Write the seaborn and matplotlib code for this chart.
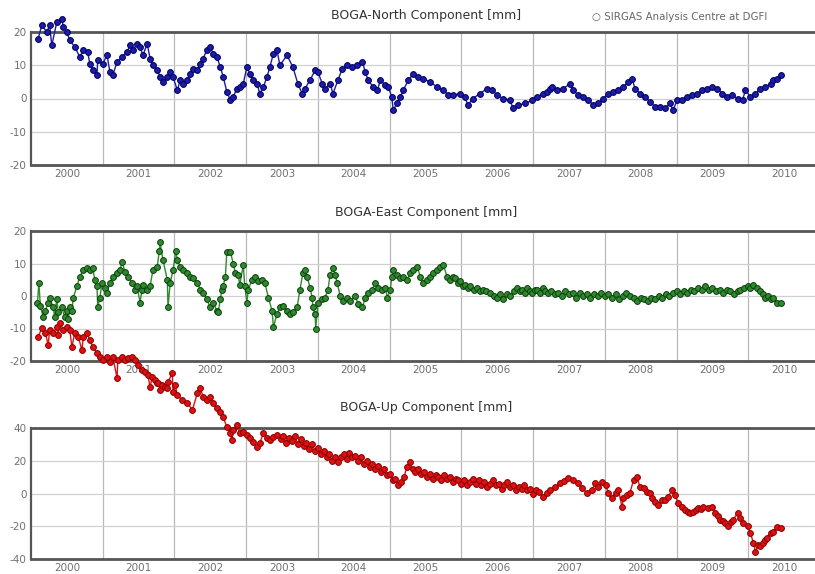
import matplotlib
matplotlib.use("Agg")
import matplotlib.pyplot as plt
import pandas as pd
import seaborn as sns
from matplotlib.ticker import FixedLocator, NullFormatter

# decimal epoch (year axis, labels sit at mid-year) and values in mm
north_t = [2000.10, 2000.15, 2000.22, 2000.26, 2000.29, 2000.36, 2000.43, 2000.45, 2000.50, 2000.54,
           2000.61, 2000.68, 2000.73, 2000.79, 2000.82, 2000.86, 2000.92, 2000.93, 2001.00, 2001.06,
           2001.10, 2001.14, 2001.20, 2001.27, 2001.34, 2001.38, 2001.42, 2001.48, 2001.52, 2001.56,
           2001.62, 2001.66, 2001.70, 2001.76, 2001.80, 2001.84, 2001.90, 2001.94, 2001.98, 2002.04,
           2002.08, 2002.12, 2002.18, 2002.22, 2002.26, 2002.32, 2002.36, 2002.40, 2002.45, 2002.50,
           2002.54, 2002.59, 2002.64, 2002.68, 2002.73, 2002.78, 2002.82, 2002.87, 2002.91, 2002.96,
           2003.01, 2003.05, 2003.10, 2003.15, 2003.19, 2003.24, 2003.29, 2003.33, 2003.38, 2003.43,
           2003.47, 2003.57, 2003.65, 2003.72, 2003.78, 2003.82, 2003.89, 2003.96, 2004.00, 2004.06,
           2004.10, 2004.17, 2004.21, 2004.28, 2004.34, 2004.41, 2004.48, 2004.55, 2004.62, 2004.66,
           2004.70, 2004.77, 2004.83, 2004.87, 2004.94, 2004.98, 2005.03, 2005.05, 2005.10, 2005.15,
           2005.19, 2005.26, 2005.33, 2005.40, 2005.47, 2005.56, 2005.66, 2005.75, 2005.82, 2005.89,
           2005.98, 2006.05, 2006.09, 2006.16, 2006.26, 2006.36, 2006.43, 2006.50, 2006.58, 2006.68,
           2006.72, 2006.79, 2006.89, 2006.99, 2007.06, 2007.14, 2007.20, 2007.24, 2007.27, 2007.34,
           2007.42, 2007.52, 2007.56, 2007.63, 2007.70, 2007.77, 2007.84, 2007.91, 2007.98, 2008.05,
           2008.12, 2008.19, 2008.26, 2008.33, 2008.38, 2008.42, 2008.49, 2008.56, 2008.63, 2008.70,
           2008.77, 2008.84, 2008.91, 2008.95, 2009.01, 2009.08, 2009.15, 2009.22, 2009.29, 2009.36,
           2009.43, 2009.50, 2009.57, 2009.64, 2009.71, 2009.78, 2009.85, 2009.92, 2009.96, 2010.03,
           2010.10, 2010.17, 2010.24, 2010.31, 2010.35, 2010.40, 2010.45]
north_mm = [18, 22, 20, 22, 16, 23, 24, 21.5, 20, 17.5,
            15.5, 12.5, 14.5, 14, 10.5, 8.5, 7, 11.5, 10.5, 13,
            8, 7, 11, 12.5, 14, 16, 14.5, 16.5, 15.5, 13,
            16.5, 12, 10, 8.5, 6.5, 5, 6.5, 8, 6.5, 2.5,
            5.5, 4.5, 5.5, 7.5, 9, 8.5, 10.5, 12, 14.5, 15.5,
            13.5, 12.5, 9.5, 6.5, 2, -0.5, 0.5, 3, 3.5, 4.5,
            9.5, 7.5, 5.5, 4.5, 1.5, 3.5, 6.5, 9.5, 13.5, 14.5,
            10, 13, 9.5, 4.5, 1.5, 3, 5.5, 8.5, 8, 4.5,
            3, 4.5, 1.5, 5.5, 9, 10, 9.5, 10, 11, 8,
            5.5, 3.5, 2.5, 5.5, 4, 3.5, 0.5, -3.5, -1.5, 0.5,
            2.5, 5.5, 7.5, 6.5, 6, 5, 3.5, 2.5, 1, 1,
            1.5, 0.5, -2, 0, 1.5, 3, 2.5, 1, 0, -0.5,
            -3, -2, -1.5, -0.5, 0.5, 1.5, 2, 3, 3.5, 2.5,
            3, 4.5, 2.5, 1, 0.5, -0.5, -2, -1.5, 0, 1.5,
            2, 2.5, 3.5, 5, 6, 3, 1.5, 0.5, -1, -2.5,
            -2.5, -3, -1.5, -3.5, -0.5, -0.5, 0.5, 1, 1.5, 2.5,
            3, 3.5, 3, 1.5, 0.5, 1, 0, -0.5, 2.5, 0.5,
            1.5, 3, 3.5, 4.5, 5.5, 6, 7]

east_t = [2000.09, 2000.11, 2000.13, 2000.17, 2000.20, 2000.24, 2000.26, 2000.31, 2000.33, 2000.36,
          2000.38, 2000.43, 2000.47, 2000.50, 2000.52, 2000.54, 2000.57, 2000.59, 2000.64, 2000.68,
          2000.73, 2000.78, 2000.82, 2000.86, 2000.89, 2000.92, 2000.93, 2000.96, 2000.99, 2001.03,
          2001.06, 2001.10, 2001.14, 2001.20, 2001.24, 2001.27, 2001.31, 2001.35, 2001.41, 2001.45,
          2001.48, 2001.52, 2001.55, 2001.56, 2001.62, 2001.66, 2001.70, 2001.76, 2001.79, 2001.80,
          2001.84, 2001.90, 2001.91, 2001.94, 2001.98, 2002.02, 2002.04, 2002.08, 2002.12, 2002.18,
          2002.22, 2002.26, 2002.32, 2002.36, 2002.40, 2002.45, 2002.50, 2002.54, 2002.59, 2002.61,
          2002.64, 2002.66, 2002.68, 2002.71, 2002.73, 2002.78, 2002.82, 2002.85, 2002.89, 2002.91,
          2002.96, 2002.98, 2003.01, 2003.03, 2003.08, 2003.12, 2003.17, 2003.22, 2003.26, 2003.31,
          2003.36, 2003.38, 2003.43, 2003.47, 2003.51, 2003.57, 2003.61, 2003.65, 2003.71, 2003.75,
          2003.79, 2003.82, 2003.85, 2003.89, 2003.92, 2003.93, 2003.96, 2003.97, 2004.00, 2004.06,
          2004.10, 2004.14, 2004.17, 2004.21, 2004.24, 2004.27, 2004.31, 2004.35, 2004.41, 2004.45,
          2004.52, 2004.56, 2004.62, 2004.66, 2004.70, 2004.76, 2004.80, 2004.84, 2004.90, 2004.94,
          2004.97, 2005.01, 2005.03, 2005.05, 2005.10, 2005.15, 2005.19, 2005.24, 2005.29, 2005.33,
          2005.38, 2005.43, 2005.47, 2005.52, 2005.56, 2005.61, 2005.66, 2005.70, 2005.75, 2005.80,
          2005.84, 2005.88, 2005.91, 2005.95, 2005.98, 2006.02, 2006.05, 2006.09, 2006.12, 2006.17,
          2006.22, 2006.26, 2006.30, 2006.35, 2006.40, 2006.45, 2006.50, 2006.54, 2006.58, 2006.63,
          2006.68, 2006.73, 2006.78, 2006.82, 2006.85, 2006.89, 2006.92, 2006.96, 2006.99, 2007.03,
          2007.06, 2007.10, 2007.14, 2007.17, 2007.21, 2007.25, 2007.30, 2007.35, 2007.40, 2007.45,
          2007.50, 2007.55, 2007.60, 2007.65, 2007.70, 2007.75, 2007.80, 2007.85, 2007.90, 2007.95,
          2008.00, 2008.05, 2008.10, 2008.15, 2008.20, 2008.25, 2008.30, 2008.35, 2008.40, 2008.45,
          2008.50, 2008.55, 2008.60, 2008.65, 2008.70, 2008.75, 2008.80, 2008.85, 2008.90, 2008.95,
          2009.00, 2009.05, 2009.10, 2009.15, 2009.20, 2009.25, 2009.30, 2009.35, 2009.40, 2009.45,
          2009.50, 2009.55, 2009.60, 2009.65, 2009.70, 2009.75, 2009.80, 2009.85, 2009.89, 2009.94,
          2009.99, 2010.03, 2010.07, 2010.12, 2010.17, 2010.21, 2010.24, 2010.28, 2010.31, 2010.35,
          2010.40, 2010.45]
east_mm = [-2, 4, -3, -6.5, -4.5, -2, -0.5, -3.5, -6.5, -1,
           -5, -3.5, -6.5, -4.5, -7, -3.5, -4.5, -0.5, 3, 6,
           8, 8.5, 8, 8.5, 5, 3, -3.5, -0.5, 4, 2.5,
           1, 4, 6, 7, 8, 10.5, 7.5, 6, 4, 2,
           3, -2, 2, 3.5, 2, 3, 8, 9, 14, 16.5,
           11, 5, -3.5, 4, 8, 14, 11, 9, 8, 7,
           6, 5.5, 4, 2, 1, -1, -3.5, -2, -4.5, -5,
           -1, 2, 3, 6, 13.5, 13.5, 10, 7, 6.5, 3.5,
           9.5, 3, -2, 2, 5, 6, 4.5, 5, 4, -0.5,
           -4.5, -9.5, -5.5, -3.5, -3, -4.5, -5.5, -5, -3.5, 2,
           7, 8, 6, 2.5, -0.5, -3.5, -5.5, -10, -2, -1,
           -0.5, 2, 6.5, 8.5, 6.5, 4, 0, -1.5, -0.5, -1.5,
           0, -2.5, -3.5, -0.5, 1, 2, 4, 2.5, 2, 2.5,
           -0.5, 2, 6, 8, 6.5, 5.5, 6, 5, 7, 8,
           9, 6, 4, 5, 6, 7, 8, 9, 9.5, 6,
           5, 6, 5.5, 4, 4.5, 3, 3.5, 2.5, 3, 2,
           2.5, 1.5, 2, 1.5, 1, 0, -0.5, 0.5, -1, 0.5,
           0, 1.5, 2.5, 1.5, 2, 1, 2.5, 1.5, 1, 2,
           2, 1, 2.5, 1.5, 1, 1.5, 0.5, 1, 0, 1.5,
           0.5, 1, -0.5, 1, 0, 0.5, -0.5, 0.5, 0, 1,
           0, 0.5, -0.5, 0.5, -1, 0, 1, 0, -0.5, -1.5,
           -0.5, -1, -1.5, -0.5, -1, 0, -0.5, 0.5, 0, 1,
           1.5, 0.5, 1.5, 1, 2, 1.5, 2.5, 2, 3, 2,
           2.5, 1.5, 2, 1, 2, 1.5, 0.5, 1.5, 2, 2.5,
           3, 2.5, 3.5, 2.5, 1.5, 0.5, -0.5, 0, -1, -0.5,
           -2, -2]

up_t = [2000.10, 2000.15, 2000.20, 2000.24, 2000.26, 2000.31, 2000.36, 2000.38, 2000.40, 2000.45,
        2000.50, 2000.54, 2000.57, 2000.61, 2000.66, 2000.71, 2000.73, 2000.78, 2000.82, 2000.86,
        2000.92, 2000.96, 2001.00, 2001.06, 2001.10, 2001.14, 2001.20, 2001.21, 2001.27, 2001.31,
        2001.35, 2001.41, 2001.45, 2001.49, 2001.55, 2001.59, 2001.63, 2001.66, 2001.69, 2001.73,
        2001.76, 2001.77, 2001.80, 2001.83, 2001.87, 2001.90, 2001.91, 2001.97, 2001.98, 2002.01,
        2002.04, 2002.11, 2002.18, 2002.25, 2002.32, 2002.36, 2002.40, 2002.45, 2002.50, 2002.54,
        2002.59, 2002.64, 2002.68, 2002.73, 2002.78, 2002.80, 2002.82, 2002.87, 2002.91, 2002.96,
        2003.01, 2003.05, 2003.10, 2003.15, 2003.19, 2003.24, 2003.29, 2003.33, 2003.38, 2003.43,
        2003.48, 2003.52, 2003.56, 2003.60, 2003.64, 2003.68, 2003.72, 2003.76, 2003.80, 2003.84,
        2003.88, 2003.92, 2003.96, 2004.00, 2004.04, 2004.08, 2004.12, 2004.16, 2004.20, 2004.24,
        2004.28, 2004.32, 2004.36, 2004.40, 2004.44, 2004.48, 2004.52, 2004.56, 2004.60, 2004.64,
        2004.68, 2004.72, 2004.76, 2004.80, 2004.84, 2004.88, 2004.92, 2004.96, 2005.00, 2005.04,
        2005.08, 2005.12, 2005.16, 2005.20, 2005.24, 2005.28, 2005.32, 2005.36, 2005.40, 2005.44,
        2005.48, 2005.52, 2005.56, 2005.60, 2005.64, 2005.68, 2005.72, 2005.76, 2005.80, 2005.84,
        2005.88, 2005.92, 2005.96, 2006.00, 2006.04, 2006.08, 2006.12, 2006.16, 2006.20, 2006.24,
        2006.28, 2006.32, 2006.36, 2006.40, 2006.44, 2006.48, 2006.52, 2006.56, 2006.60, 2006.64,
        2006.68, 2006.72, 2006.76, 2006.80, 2006.84, 2006.88, 2006.92, 2006.96, 2007.00, 2007.04,
        2007.08, 2007.14, 2007.19, 2007.24, 2007.31, 2007.38, 2007.43, 2007.48, 2007.55, 2007.62,
        2007.68, 2007.75, 2007.82, 2007.87, 2007.91, 2007.96, 2008.01, 2008.05, 2008.10, 2008.15,
        2008.19, 2008.24, 2008.26, 2008.31, 2008.35, 2008.40, 2008.45, 2008.49, 2008.54, 2008.59,
        2008.63, 2008.66, 2008.70, 2008.74, 2008.80, 2008.84, 2008.88, 2008.94, 2008.98, 2009.02,
        2009.08, 2009.12, 2009.16, 2009.19, 2009.23, 2009.27, 2009.30, 2009.34, 2009.37, 2009.44,
        2009.50, 2009.54, 2009.58, 2009.61, 2009.65, 2009.68, 2009.72, 2009.76, 2009.79, 2009.85,
        2009.89, 2009.93, 2009.99, 2010.03, 2010.07, 2010.10, 2010.14, 2010.17, 2010.20, 2010.23,
        2010.26, 2010.31, 2010.35, 2010.40, 2010.45]
up_mm = [95.6, 101, 98, 90.7, 100, 98, 101.7, 96.8, 104, 100,
         101.7, 100, 89.5, 98, 95.6, 87.6, 95.6, 98, 93.7, 89.5,
         85.8, 83.4, 81.5, 83.4, 80.3, 83.4, 70.5, 81.5, 83.4, 81.5,
         82.7, 83.4, 81.5, 78.5, 75.4, 74.2, 72.4, 65, 71.1, 69.3,
         67.5, 67.5, 63.2, 66.3, 65, 64.4, 68, 73.6, 62, 66.3,
         60, 57, 55.3, 51, 61.4, 64.4, 59, 57, 59, 55.3,
         52.2, 49.8, 46.7, 40.6, 36.9, 32.7, 38.8, 41.8, 36.9, 37.6,
         35.7, 33.9, 31.5, 28.4, 30.8, 36.9, 33.9, 32.7, 34.5, 35.7,
         33, 35, 31, 34, 32, 35, 30, 33, 29, 31,
         27, 30, 26, 28, 24, 26, 22, 24, 20, 22,
         19, 22, 24, 21, 25, 22, 23, 20, 22, 18,
         20, 16, 18, 15, 17, 13, 15, 11, 12, 8,
         9, 5, 7, 10, 16, 19, 15, 13, 15, 12,
         13, 10, 12, 9, 11, 10, 8, 11, 9, 10,
         7, 9, 8, 6, 8, 5, 7, 9, 6, 8,
         5, 7, 4, 6, 8, 5, 6, 3, 5, 7,
         4, 5, 2, 4, 3, 5, 2, 3, 0, 2,
         1, -2, 0.5, 2, 4, 6.4, 7.5, 9.5, 8.2, 6.4,
         3.4, 0.3, 2, 6.4, 4, 7, 5.2, 0.3, -2.7, 0.3,
         2, -8.2, -2.7, -1, 0.3, 8.2, 10, 4, 3.4, 0.9,
         0.3, -2.5, -5.2, -7, -4, -4, -2, 2, -1, -5.8,
         -8.2, -10, -11, -12, -11.3, -10, -8.8, -9.5, -8.2, -8.8,
         -8.2, -12, -13.5, -16, -17, -18, -20, -17.5, -16, -12,
         -15, -18, -20, -24, -30, -35.6, -31.5, -32, -30, -28.5,
         -27, -24, -23.4, -20.5, -21]

titles = ["BOGA-North Component [mm]", "BOGA-East Component [mm]", "BOGA-Up Component [mm]"]
year_labels = [str(y) for y in range(2000, 2011)]
credit = "\u25cb SIRGAS Analysis Centre at DGFI"

series = [
    (north_t, north_mm, "#1c1ca8", "#00005a", [-20, -10, 0, 10, 20]),
    (east_t, east_mm, "#2f8a2f", "#0b3d0b", [-20, -10, 0, 10, 20]),
    (up_t, up_mm, "#dd1111", "#8a0000", [-40, -20, 0, 20, 40]),
]

sns.set_theme(style="white")
plt.rcParams["font.family"] = ["DejaVu Sans"]
plt.rcParams["axes.unicode_minus"] = False

fig = plt.figure(figsize=(8.15, 5.74), dpi=100)
# panel boxes in pixels: (top, bottom)
boxes = [(32, 165), (231, 361), (428, 559)]
title_y = [15, 213, 408]
W, H = 815, 574
axes = []
for top, bot in boxes:
    axes.append(fig.add_axes([31 / W, 1 - bot / H, 789 / W, (bot - top) / H]))

for i, (ax, (t, v, fc, ec, yt)) in enumerate(zip(axes, series)):
    df = pd.DataFrame({"t": t, "v": v})
    sns.lineplot(data=df, x="t", y="v", ax=ax, estimator=None, sort=True,
                 color=fc, lw=1.0, marker="o", markersize=4.2,
                 markerfacecolor=fc, markeredgecolor=ec, markeredgewidth=0.7,
                 clip_on=False, zorder=5)
    ax.set_xlim(2000, 2011)
    ax.set_ylim(yt[0], yt[-1])
    ax.set_xlabel("")
    ax.set_ylabel("")
    ax.set_yticks(yt)
    ax.set_yticklabels([str(y) for y in yt])
    ax.xaxis.set_major_locator(FixedLocator([y + 0.5 for y in range(2000, 2011)]))
    ax.set_xticklabels(year_labels)
    ax.xaxis.set_minor_locator(FixedLocator(list(range(2001, 2011))))
    ax.xaxis.set_minor_formatter(NullFormatter())
    ax.grid(False)
    ax.grid(axis="y", which="major", color="#d0d0d0", lw=0.9)
    ax.grid(axis="x", which="minor", color="#b8b8b8", lw=0.9)
    ax.tick_params(axis="both", which="both", length=0, labelsize=7.5,
                   labelcolor="#707070", pad=3)
    for s in ["top", "bottom"]:
        ax.spines[s].set_color("#555555")
        ax.spines[s].set_linewidth(2)
    ax.spines["left"].set_color("#555555")
    ax.spines["left"].set_linewidth(1.6)
    ax.spines["right"].set_visible(False)
    ax.set_facecolor("white")
    fig.text(426 / W, 1 - title_y[i] / H, titles[i], ha="center", va="center",
             fontsize=9, color="#333333")

fig.text(680 / W, 1 - 17 / H, credit, ha="center", va="center", fontsize=7.4, color="#666666")

fig.savefig("out.png", dpi=100, facecolor="white")
